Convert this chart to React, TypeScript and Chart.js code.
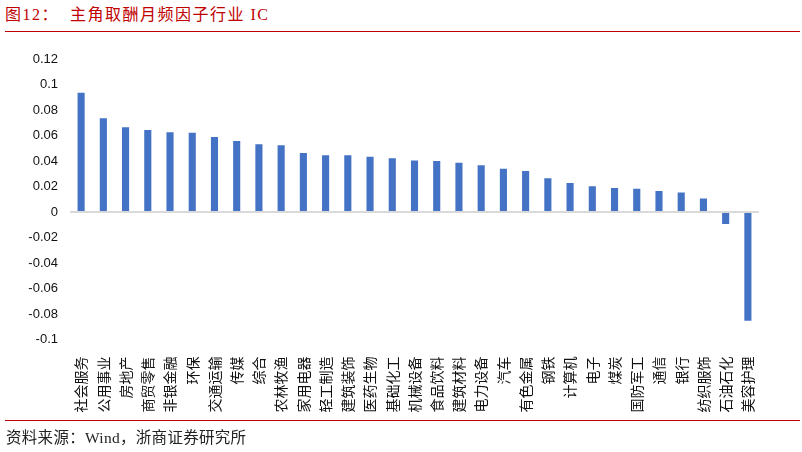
import React, { useEffect, useRef } from 'react';
import { Chart, registerables } from 'chart.js';

Chart.register(...registerables);

const categories = [
  '社会服务', '公用事业', '房地产', '商贸零售', '非银金融', '环保', '交通运输', '传媒', '综合', '农林牧渔',
  '家用电器', '轻工制造', '建筑装饰', '医药生物', '基础化工', '机械设备', '食品饮料', '建筑材料', '电力设备', '汽车',
  '有色金属', '钢铁', '计算机', '电子', '煤炭', '国防军工', '通信', '银行', '纺织服饰', '石油石化', '美容护理',
];

const icValues = [
  0.0936, 0.0735, 0.0664, 0.0643, 0.0625, 0.0622, 0.0588, 0.0557, 0.0531, 0.0523,
  0.0463, 0.0445, 0.0445, 0.0434, 0.0421, 0.0403, 0.0400, 0.0387, 0.0366, 0.0340,
  0.0322, 0.0264, 0.0227, 0.0201, 0.0188, 0.0183, 0.0165, 0.0152, 0.0105, -0.0094, -0.0852,
];

const yMin = -0.1;
const yMax = 0.12;
const yStep = 0.02;

const titleText = '图12：  主角取酬月频因子行业 IC';
const sourceText = '资料来源：Wind，浙商证券研究所';

export default function App() {
  const canvasRef = useRef<HTMLCanvasElement | null>(null);

  useEffect(() => {
    if (!canvasRef.current) return;
    const chart = new Chart(canvasRef.current, {
      type: 'bar',
      data: {
        labels: categories,
        datasets: [
          {
            data: icValues,
            backgroundColor: '#4472C4',
            borderWidth: 0,
            categoryPercentage: 1,
            barPercentage: 0.32,
          },
        ],
      },
      options: {
        responsive: false,
        animation: false,
        layout: { padding: { left: 0, right: 43, top: 59, bottom: 0 } },
        plugins: { legend: { display: false }, tooltip: { enabled: false } },
        scales: {
          x: {
            grid: { display: false },
            border: { display: false },
            ticks: {
              autoSkip: false,
              maxRotation: 90,
              minRotation: 90,
              padding: 9,
              color: '#111',
              font: { family: '"Noto Sans CJK SC", "Liberation Sans", sans-serif', size: 14 },
            },
            afterFit: (s: any) => {
              s.height = 112.5;
            },
          },
          y: {
            min: yMin,
            max: yMax,
            border: { display: false },
            grid: {
              drawTicks: false,
              lineWidth: 2,
              color: (ctx: any) => (ctx.tick && Math.abs(ctx.tick.value) < 1e-9 ? '#d9d9d9' : 'rgba(0,0,0,0)'),
            },
            ticks: {
              stepSize: yStep,
              padding: 12,
              color: '#111',
              font: { family: '"Liberation Sans", Arial, sans-serif', size: 13 },
              callback: (v: any) => String(Number(Number(v).toFixed(2))),
            },
            afterFit: (s: any) => {
              s.width = 70;
            },
          },
        },
      },
    });
    return () => chart.destroy();
  }, []);

  return (
    <div style={{ position: 'fixed', left: 0, top: 0, width: 802, height: 452, background: '#fff', overflow: 'hidden' }}>
      <div
        style={{
          position: 'absolute',
          left: 5,
          top: 4,
          fontFamily: '"Liberation Serif", "Noto Sans CJK SC", serif',
          fontSize: 16,
          letterSpacing: 1.5,
          color: '#C00000',
          whiteSpace: 'pre',
          lineHeight: '22px',
        }}
      >
        {titleText}
      </div>
      <div style={{ position: 'absolute', left: 5, top: 31, width: 795, height: 1, background: '#C00000' }} />
      <canvas ref={canvasRef} width={802} height={452} style={{ position: 'absolute', left: 0, top: 0, width: 802, height: 452 }} />
      <div style={{ position: 'absolute', left: 5, top: 420, width: 795, height: 1, background: '#C00000' }} />
      <div
        style={{
          position: 'absolute',
          left: 6,
          top: 428,
          fontFamily: '"Liberation Serif", "Noto Sans CJK SC", serif',
          fontSize: 15.5,
          letterSpacing: 0.3,
          color: '#222',
          whiteSpace: 'pre',
          lineHeight: '20px',
        }}
      >
        {sourceText}
      </div>
    </div>
  );
}
